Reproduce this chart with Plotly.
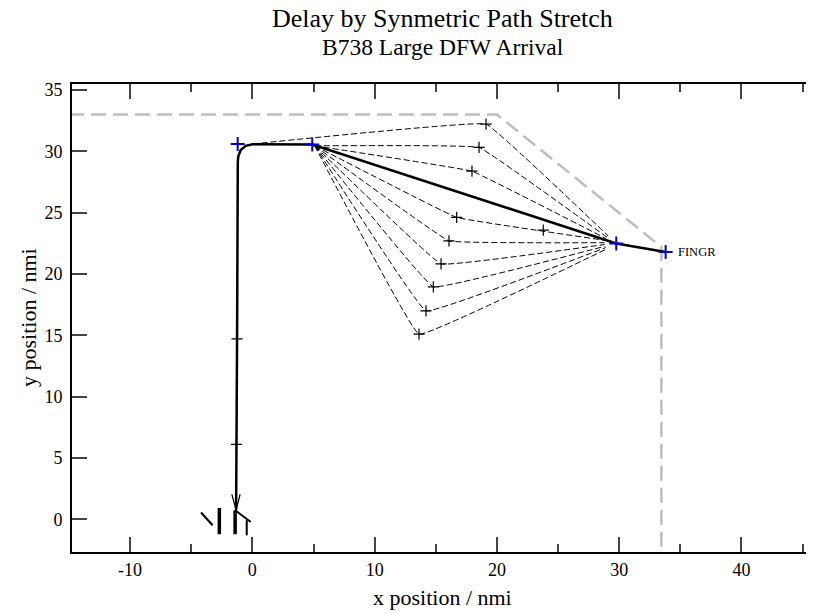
import plotly.graph_objects as go

# ---------------- data (nmi) ----------------
# flown (solid) path, FINGR -> runway
path_x = [33.8, 29.76, 4.9, 0.0, -0.55, -0.95, -1.15, -1.19, -1.25, -1.30, -1.33]
path_y = [21.8, 22.49, 30.56, 30.58, 30.45, 30.10, 29.60, 29.15, 14.7, 6.1, 0.73]

# arrow head at runway end
arrow_x = [-1.68, -1.33, -1.00]
arrow_y = [2.04, 0.73, 2.04]

# named waypoints (blue crosses)
wp_x = [-1.2, 4.9, 29.76, 33.8]
wp_y = [30.6, 30.56, 22.49, 21.8]
fix_name = "FINGR"

# path-stretch alternatives (dashed): start, turn point, end
fan_start_x = [0.0, 5.1, 5.1, 5.1, 5.1, 5.1, 5.1, 5.1, 5.1]
fan_start_y = [30.6, 30.45, 30.45, 30.45, 30.45, 30.45, 30.45, 30.45, 30.45]
fan_turn_x = [19.11, 18.54, 17.96, 16.71, 16.08, 15.43, 14.80, 14.20, 13.63]
fan_turn_y = [32.22, 30.32, 28.38, 24.61, 22.70, 20.82, 18.95, 16.99, 15.09]
fan_end_x = [29.1, 29.0, 28.9, 28.8, 28.8, 28.8, 28.8, 28.9, 29.0]
fan_end_y = [23.1, 23.0, 22.9, 22.75, 22.55, 22.4, 22.25, 22.15, 22.05]

# other black track points
pt_x = [23.79, -1.25, -1.30]
pt_y = [23.57, 14.7, 6.1]

# airspace boundary (grey dashed)
bnd_x = [-15.0, 20.0, 33.45, 33.45]
bnd_y = [33.0, 33.0, 22.2, -3.0]

# runway symbols
rw_bar_x = [-2.7, -2.7, None, -1.41, -1.41]
rw_bar_y = [0.92, -1.22, None, 0.73, -1.22]
rw_thin_x = [-4.2, -3.25, None, -1.41, -0.13, None, -0.46, -0.46]
rw_thin_y = [0.55, -0.49, None, 0.73, -0.22, None, -0.08, -1.31]

# axes
x_range = [-14.75, 45.85]
y_range = [-2.67, 35.49]
x_tickvals = [-10, 0, 10, 20, 30, 40]
x_ticktext = ["-10", "0", "10", "20", "30", "40"]
y_tickvals = [0, 5, 10, 15, 20, 25, 30, 35]
y_ticktext = ["0", "5", "10", "15", "20", "25", "30", "35"]

SERIF = "Liberation Serif"
PLOT_H = 467.7

fig = go.Figure()

fig.add_trace(go.Scatter(x=bnd_x, y=bnd_y, mode="lines",
                         line=dict(color="#bdbdbd", width=2.5, dash="15px,7px"),
                         hoverinfo="skip"))

for i in range(len(fan_turn_x)):
    xs = [fan_start_x[i], fan_turn_x[i], fan_end_x[i]]
    ys = [fan_start_y[i], fan_turn_y[i], fan_end_y[i]]
    fig.add_trace(go.Scatter(x=xs, y=ys, mode="lines",
                             line=dict(color="black", width=1, dash="6px,3px",
                                       shape="spline", smoothing=0.15),
                             hoverinfo="skip"))

fig.add_trace(go.Scatter(x=path_x, y=path_y, mode="lines",
                         line=dict(color="black", width=2.5), hoverinfo="skip"))
fig.add_trace(go.Scatter(x=arrow_x, y=arrow_y, mode="lines",
                         line=dict(color="black", width=1.2), hoverinfo="skip"))
fig.add_trace(go.Scatter(x=rw_bar_x, y=rw_bar_y, mode="lines",
                         line=dict(color="black", width=3.5), hoverinfo="skip"))
fig.add_trace(go.Scatter(x=rw_thin_x, y=rw_thin_y, mode="lines",
                         line=dict(color="black", width=2), hoverinfo="skip"))

fig.add_trace(go.Scatter(x=fan_turn_x + pt_x, y=fan_turn_y + pt_y, mode="markers",
                         marker=dict(symbol="cross-thin", size=8,
                                     line=dict(color="black", width=1.2)),
                         hoverinfo="skip"))
fig.add_trace(go.Scatter(x=wp_x, y=wp_y, mode="markers",
                         marker=dict(symbol="cross-thin", size=10,
                                     line=dict(color="#0000cc", width=2)),
                         hoverinfo="skip"))

fig.add_annotation(x=wp_x[-1] + 0.85, y=wp_y[-1], text=fix_name, showarrow=False,
                   xanchor="left", yanchor="middle",
                   font=dict(family=SERIF, size=12.5, color="black"))

# titles
fig.add_annotation(xref="paper", yref="paper", x=0.5, y=1 + (84 - 19) / PLOT_H,
                   text="Delay by Synmetric Path Stretch", showarrow=False,
                   xanchor="center", yanchor="middle",
                   font=dict(family=SERIF, size=26, color="black"))
fig.add_annotation(xref="paper", yref="paper", x=0.5, y=1 + (84 - 47) / PLOT_H,
                   text="B738 Large DFW Arrival", showarrow=False,
                   xanchor="center", yanchor="middle",
                   font=dict(family=SERIF, size=23.5, color="black"))
fig.add_annotation(xref="paper", yref="paper", x=0.5, y=-(597 - 551.7) / PLOT_H,
                   text="x position / nmi", showarrow=False,
                   xanchor="center", yanchor="middle",
                   font=dict(family=SERIF, size=22, color="black"))
fig.add_annotation(xref="paper", yref="paper", x=-(72 - 28) / 741, y=0.5,
                   text="y position / nmi", showarrow=False, textangle=-90,
                   xanchor="center", yanchor="middle",
                   font=dict(family=SERIF, size=22, color="black"))

fig.update_layout(
    width=806, height=606,
    margin=dict(l=64, r=1, t=76, b=62),
    paper_bgcolor="white", plot_bgcolor="white",
    showlegend=False,
    font=dict(family=SERIF, color="black"),
    xaxis=dict(range=x_range, tickvals=x_tickvals, ticktext=x_ticktext,
               ticks="inside", ticklen=15,
               tickwidth=1.5, tickcolor="#444", showgrid=False, zeroline=False,
               showline=True, linecolor="black", linewidth=2, mirror="allticks",
               tickfont=dict(family=SERIF, size=18, color="black"),
               minor=dict(tick0=0, dtick=5, ticks="inside", ticklen=8, tickwidth=1.5,
                          tickcolor="#444", showgrid=False)),
    yaxis=dict(range=y_range, tickvals=y_tickvals, ticktext=y_ticktext,
               ticks="inside", ticklen=15, ticklabelstandoff=4,
               tickwidth=1.5, tickcolor="#444", showgrid=False, zeroline=False,
               showline=True, linecolor="black", linewidth=2,
               tickfont=dict(family=SERIF, size=18, color="black")),
    yaxis2=dict(range=y_range, overlaying="y", side="right", tickvals=y_tickvals,
                ticks="inside", ticklen=6, tickwidth=1.5, tickcolor="#444",
                showticklabels=False, showgrid=False, zeroline=False, showline=False),
)

fig.write_html("out.html")
